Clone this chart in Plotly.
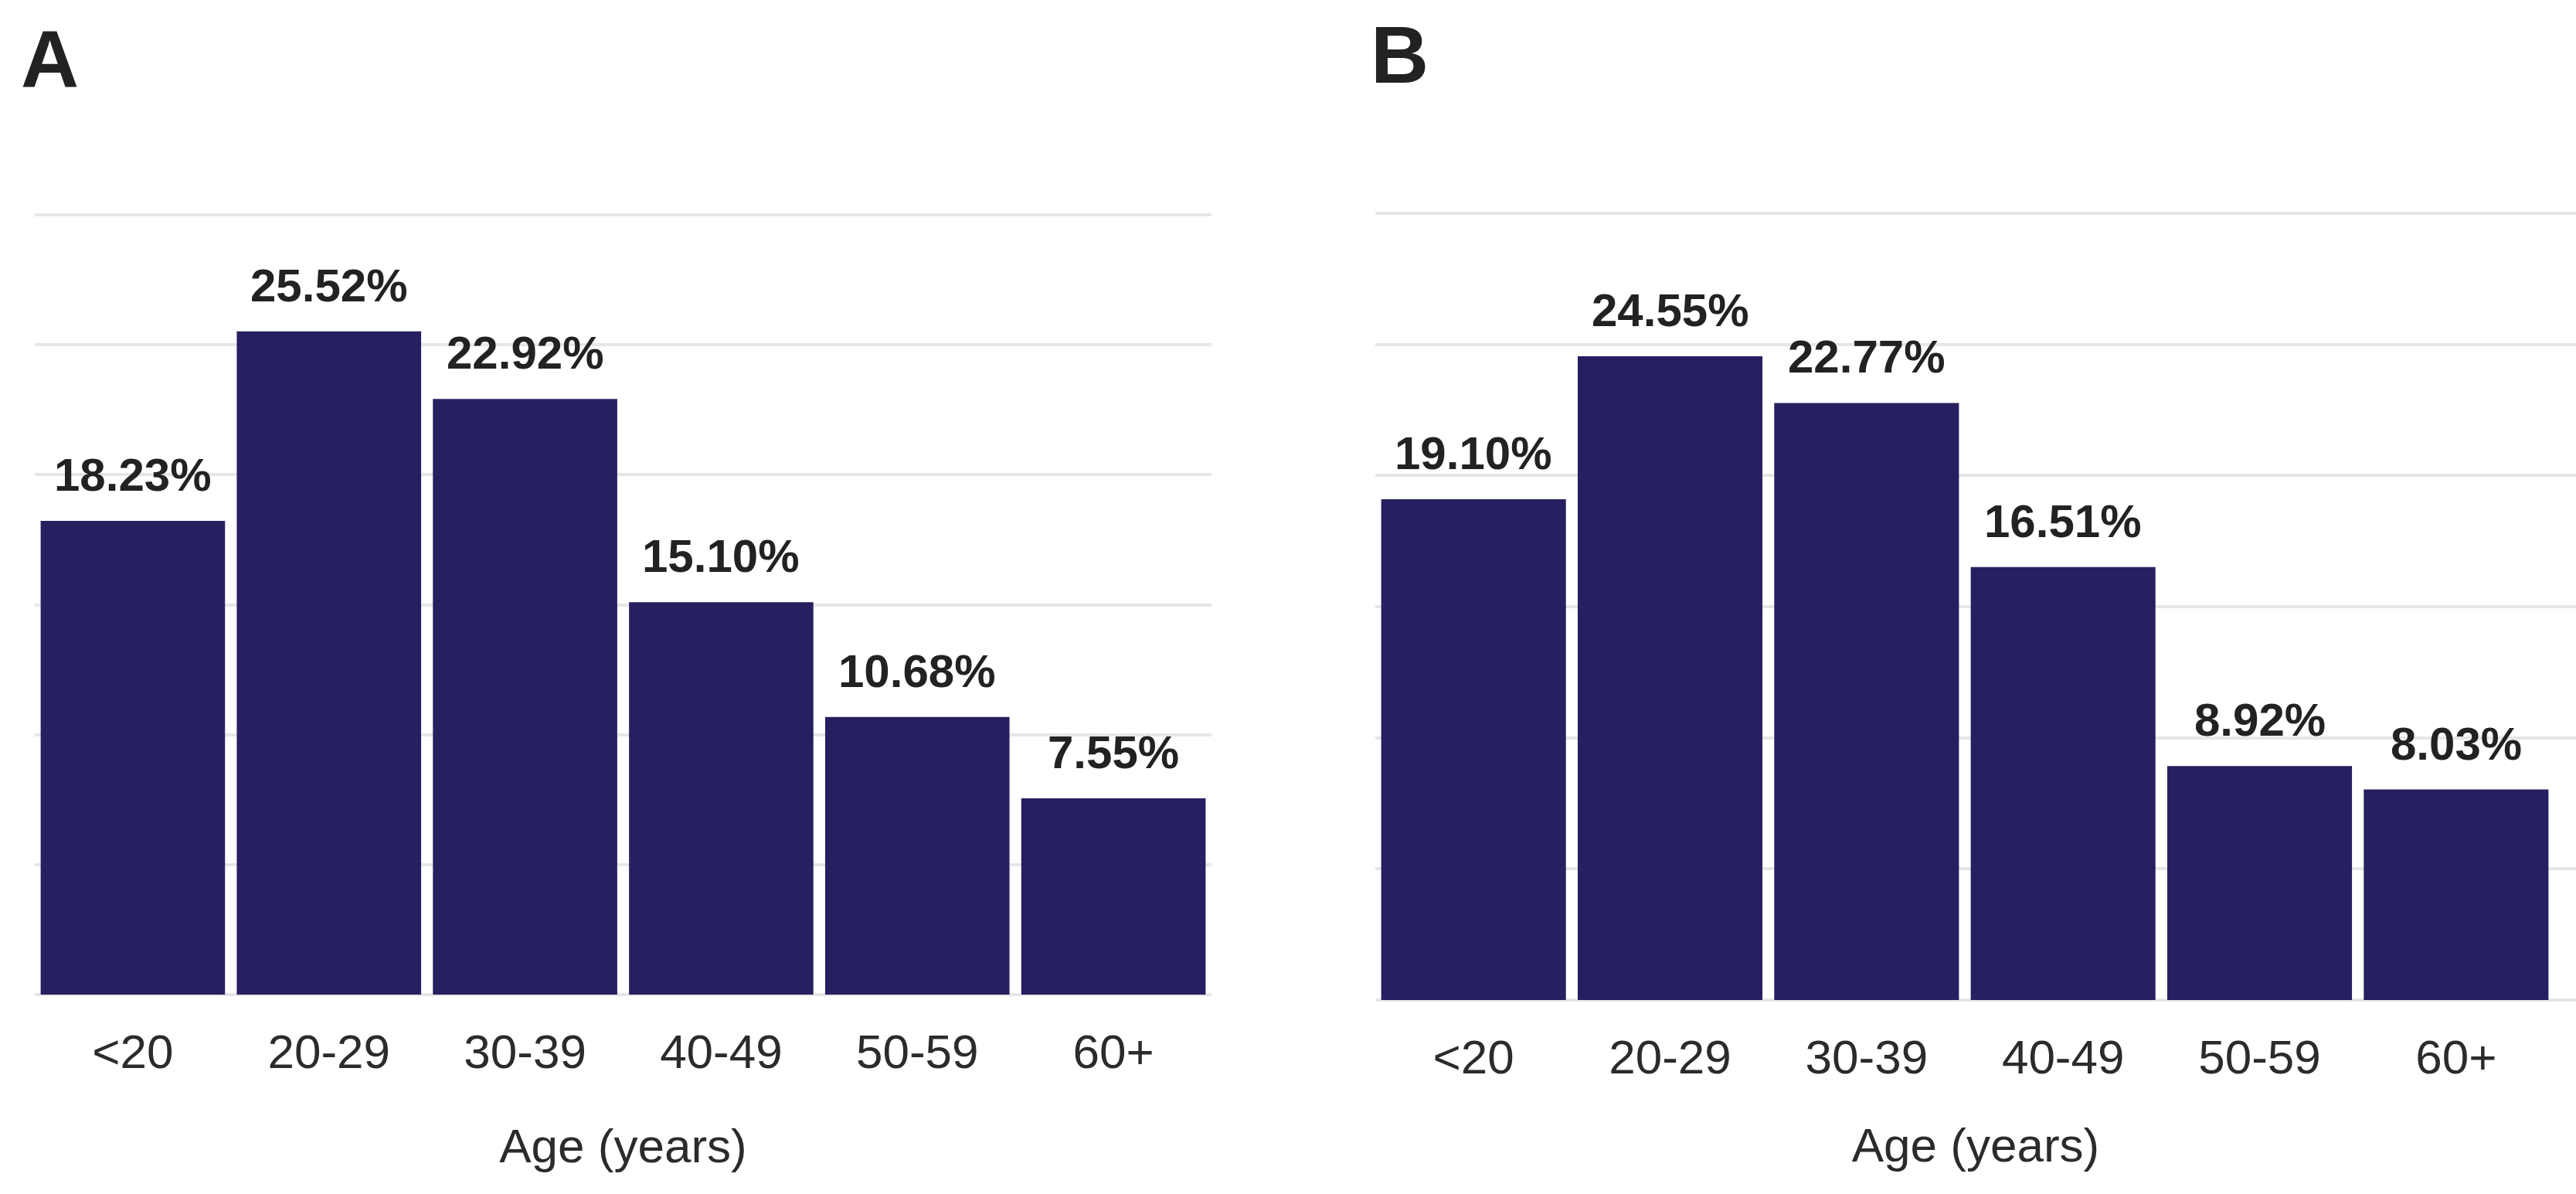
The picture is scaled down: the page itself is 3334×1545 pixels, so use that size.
import plotly.graph_objects as go

# ---------------- data ----------------
categories = ["<20", "20-29", "30-39", "40-49", "50-59", "60+"]
values_a = [18.23, 25.52, 22.92, 15.10, 10.68, 7.55]
values_b = [19.10, 24.55, 22.77, 16.51, 8.92, 8.03]
panel_labels = ["A", "B"]
y_ticks = [0, 5, 10, 15, 20, 25, 30]
x_title = "Age (years)"

# ---------------- style ----------------
W, H = 3334, 1545
BAR = "#262060"
GRID = "#E6E6E6"
TXT = "#222222"
FONT = "Arial, Liberation Sans, sans-serif"

fig = go.Figure()

panels = [
    dict(vals=values_a, xa="x", ya="y", xdom=[45 / W, 1568 / W], ydom=[1 - 1291 / H, 1 - 268 / H],
         xrange=[-0.5, 5.5], standoff=66),
    dict(vals=values_b, xa="x2", ya="y2", xdom=[1780 / W, 1.0], ydom=[1 - 1298 / H, 1 - 266 / H],
         xrange=[-0.5, 5.61], standoff=58),
]

annotations = []
for i, p in enumerate(panels):
    fig.add_trace(go.Bar(
        x=categories, y=p["vals"], xaxis=p["xa"], yaxis=p["ya"],
        marker=dict(color=BAR, line=dict(width=0)),
        width=0.94, showlegend=False, hoverinfo="x+y",
    ))
    for c, v in zip(categories, p["vals"]):
        annotations.append(dict(
            x=c, y=v, xref=p["xa"], yref=p["ya"], text=f"{v:.2f}%",
            showarrow=False, yanchor="bottom", xanchor="center", yshift=24,
            font=dict(family=FONT, size=60, color=TXT, weight="bold"),
        ))

layout_axes = {}
for i, p in enumerate(panels):
    sx = "" if i == 0 else "2"
    layout_axes["xaxis" + sx] = dict(
        domain=p["xdom"], range=p["xrange"], type="category",
        showgrid=False, zeroline=False, showline=False, ticks="",
        tickfont=dict(family=FONT, size=62, color="#2b2b2b"),
        ticklabelstandoff=28,
        title=dict(text=x_title, font=dict(family=FONT, size=62, color="#2b2b2b"),
                   standoff=p["standoff"]),
        anchor="y" + sx, fixedrange=True,
    )
    layout_axes["yaxis" + sx] = dict(
        domain=p["ydom"], range=[-0.12, 30.3], tickvals=y_ticks,
        showticklabels=False, showgrid=True, gridcolor=GRID, gridwidth=4,
        zeroline=False, showline=False, ticks="",
        anchor="x" + sx, fixedrange=True,
    )

annotations.append(dict(x=25 / W, y=1 - 76 / H, xref="paper", yref="paper", text=panel_labels[0],
                        showarrow=False, xanchor="left", yanchor="middle",
                        font=dict(family=FONT, size=104, color=TXT, weight="bold")))
annotations.append(dict(x=1772 / W, y=1 - 71 / H, xref="paper", yref="paper", text=panel_labels[1],
                        showarrow=False, xanchor="left", yanchor="middle",
                        font=dict(family=FONT, size=104, color=TXT, weight="bold")))

fig.update_layout(
    width=W, height=H,
    margin=dict(l=0, r=0, t=0, b=0),
    paper_bgcolor="white", plot_bgcolor="white",
    bargap=0.06,
    annotations=annotations,
    font=dict(family=FONT, color=TXT),
    **layout_axes,
)

fig.write_html("out.html", config={"displayModeBar": False},
               post_script="document.body.style.margin='0';")
